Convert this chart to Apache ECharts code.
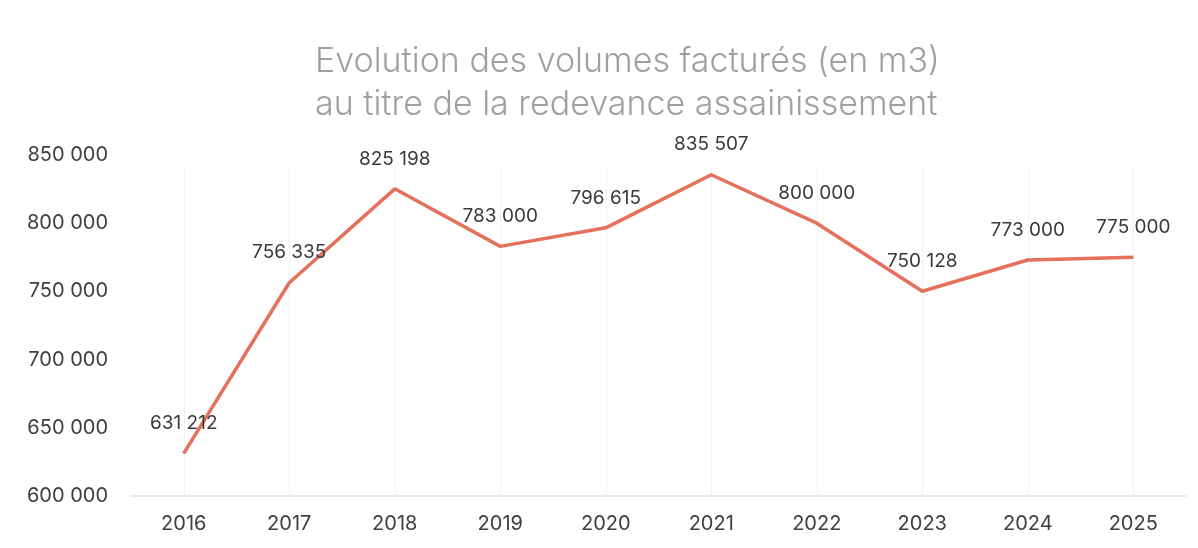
<!DOCTYPE html>
<html>
<head>
<meta charset="utf-8">
<script src="https://cdn.jsdelivr.net/npm/echarts@6/dist/echarts.min.js"></script>
<style>
  html, body { margin: 0; padding: 0; background: #fff; }
  #chart { width: 1198px; height: 548px; }
</style>
</head>
<body>
<div id="chart"></div>
<script>
// données
var years = ['2016', '2017', '2018', '2019', '2020', '2021', '2022', '2023', '2024', '2025'];
var volumes = [631212, 756335, 825198, 783000, 796615, 835507, 800000, 750128, 773000, 775000];
var titleLines = ['Evolution des volumes facturés (en m3)', 'au titre de la redevance assainissement'];

// 850000 -> "850 000"
function fmt(v) {
  return String(v).replace(/\B(?=(\d{3})+(?!\d))/g, ' ');
}

var chart = echarts.init(document.getElementById('chart'));

chart.setOption({
  animation: false,
  title: {
    text: titleLines.join('\n'),
    left: 310,
    top: 35,
    textStyle: {
      fontFamily: 'Inter',
      fontWeight: 300,
      fontSize: 34,
      lineHeight: 43,
      color: '#a0a0a0'
    }
  },
  grid: { left: 131, right: 12, top: 155, bottom: 52 },
  xAxis: {
    type: 'category',
    data: years,
    axisLine: { lineStyle: { color: '#e4e4ea', width: 1.5 } },
    axisTick: {
      show: true,
      inside: true,
      alignWithLabel: true,
      length: 330,
      lineStyle: { color: '#f1f1f5' }
    },
    axisLabel: {
      margin: 18,
      fontFamily: 'Inter',
      fontSize: 20,
      color: '#3f3f3f'
    }
  },
  yAxis: {
    type: 'value',
    min: 600000,
    max: 850000,
    interval: 50000,
    splitLine: { show: false },
    axisLine: { show: false },
    axisTick: { show: false },
    axisLabel: {
      margin: 23,
      fontFamily: 'Inter',
      fontSize: 20,
      color: '#3f3f3f',
      formatter: fmt
    }
  },
  series: [{
    type: 'line',
    data: volumes,
    symbol: 'circle',
    symbolSize: 1,
    showSymbol: true,
    itemStyle: { color: '#e5705c' },
    lineStyle: { color: '#e5705c', width: 3.5 },
    label: {
      show: true,
      position: 'top',
      distance: 20,
      fontFamily: 'Inter',
      fontSize: 19,
      color: '#3a3a3a',
      formatter: function (p) { return fmt(p.value); }
    }
  }]
});
</script>
</body>
</html>
